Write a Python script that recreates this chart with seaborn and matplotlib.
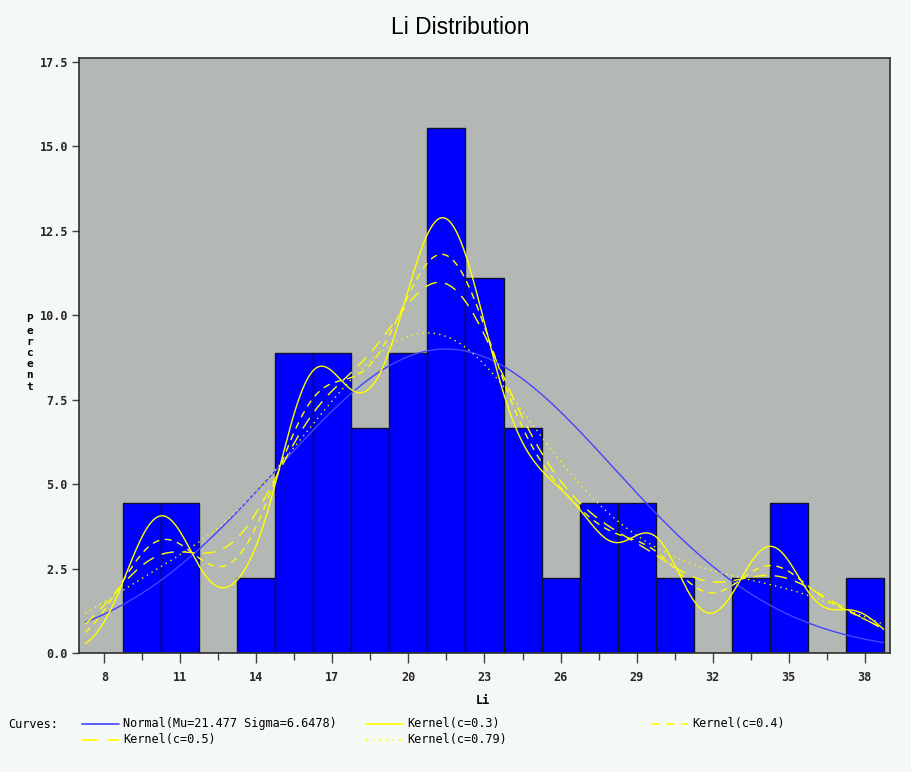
import numpy as np
import pandas as pd
import matplotlib
matplotlib.use("Agg")
import matplotlib.pyplot as plt
from matplotlib.lines import Line2D
import seaborn as sns

# ---- data (observations estimated from the histogram and the kernel curves) ----
li_values = [9.4, 9.9,
             10.6, 11.1,
             13.4,
             15.0, 15.4, 15.8, 16.1,
             16.4, 16.7, 16.9, 17.4,
             18.1, 18.5, 19.0,
             19.4, 19.9, 20.2, 20.3,
             20.8, 20.9, 21.1, 21.3, 21.5, 21.7, 22.0,
             22.3, 22.5, 22.8, 23.1, 23.5,
             24.1, 24.9, 25.2,
             26.0,
             26.9, 27.2,
             29.2, 29.5,
             30.2,
             33.4,
             34.5, 34.7,
             37.6]
bin_start = 8.75
bin_end = 38.75
bin_width = 1.5
normal_mu = 21.477
normal_sigma = 6.6478
kernel_c = [0.3, 0.4, 0.5, 0.79]
x_ticks = [8, 11, 14, 17, 20, 23, 26, 29, 32, 35, 38]
y_ticks = [0.0, 2.5, 5.0, 7.5, 10.0, 12.5, 15.0, 17.5]

FIG_BG = "#f5f9f5"
AX_BG = "#b4b8b4"

sns.set_theme(style="white")
plt.rcParams["font.family"] = ["DejaVu Sans"]

fig = plt.figure(figsize=(9.12, 7.72), dpi=100, facecolor=FIG_BG)
ax = fig.add_axes([79 / 912, 1 - 653 / 772, (890 - 79) / 912, (653 - 58) / 772])
ax.set_facecolor(AX_BG)

obs = np.array(li_values)
df = pd.DataFrame({"Li": obs})
sns.histplot(data=df, x="Li", binwidth=bin_width, binrange=(bin_start, bin_end),
             stat="percent", color="#0000ff", edgecolor="#101030", linewidth=1.0,
             alpha=1.0, ax=ax)

# fitted curves (scaled to percent per bin)
xs = np.linspace(bin_start - bin_width, bin_end, 700)
n = len(obs)
scale = 100 * bin_width
normal_y = scale * np.exp(-0.5 * ((xs - normal_mu) / normal_sigma) ** 2) / (normal_sigma * np.sqrt(2 * np.pi))
Q = np.percentile(obs, 75) - np.percentile(obs, 25)

def kde(c):
    lam = c * Q * n ** (-0.2)
    z = (xs[:, None] - obs[None, :]) / lam
    dens = np.exp(-0.5 * z ** 2).sum(axis=1) / (n * lam * np.sqrt(2 * np.pi))
    return scale * dens

styles = {0.3: "-", 0.4: (0, (5, 4)), 0.5: (0, (9, 6)), 0.79: (0, (1, 3))}
sns.lineplot(x=xs, y=normal_y, color="#4444ff", lw=1.0, ax=ax)
for c in kernel_c:
    sns.lineplot(x=xs, y=kde(c), color="#ffff00", lw=1.0, linestyle=styles[c], ax=ax)

ax.set_xlim(7, 39)
ax.set_ylim(0, 17.62)
ax.set_xticks(x_ticks)
ax.set_xticklabels([str(t) for t in x_ticks])
ax.set_xticks(np.array(x_ticks[:-1]) + 1.5, minor=True)
ax.set_yticks(y_ticks)
ax.set_yticklabels([f"{t:.1f}" for t in y_ticks])
for lab in ax.get_xticklabels() + ax.get_yticklabels():
    lab.set_fontfamily("DejaVu Sans Mono")
    lab.set_fontweight("bold")
    lab.set_fontsize(8.5)
ax.tick_params(axis="x", which="major", direction="out", length=7, width=1, color="#404040", pad=6, bottom=True)
ax.tick_params(axis="x", which="minor", direction="out", length=5, width=1, color="#404040", bottom=True)
ax.tick_params(axis="y", which="major", direction="out", length=5, width=1, color="#404040", pad=3, left=True)
for s in ax.spines.values():
    s.set_color("#303030")
    s.set_linewidth(1.2)
ax.set_xlabel("")
ax.set_ylabel("")

# title and axis labels
fig.text(460 / 912, 1 - 28 / 772, "Li Distribution", ha="center", va="center",
         fontsize=16.5, family="Liberation Sans", color="black")
fig.text(483 / 912, 1 - 700 / 772, "Li", ha="center", va="center",
         fontsize=8.5, family="DejaVu Sans Mono", fontweight="bold", color="black")
fig.text(30 / 912, 1 - 353 / 772, "P\ne\nr\nc\ne\nn\nt", ha="center", va="center",
         fontsize=8, family="DejaVu Sans Mono", fontweight="bold", linespacing=1.15, color="black")

# legend
def legend_item(x0, y, label, color, ls):
    fig.add_artist(Line2D([x0 / 912, (x0 + 37) / 912], [1 - y / 772, 1 - y / 772],
                          color=color, lw=1.2, linestyle=ls, transform=fig.transFigure))
    fig.text((x0 + 41) / 912, 1 - y / 772, label, ha="left", va="center",
             fontsize=8.6, family="DejaVu Sans Mono", color="black")

fig.text(8 / 912, 1 - 725 / 772, "Curves:", ha="left", va="center",
         fontsize=8.6, family="DejaVu Sans Mono", color="black")
legend_item(82, 724, f"Normal(Mu={normal_mu} Sigma={normal_sigma})", "#4444ff", "-")
legend_item(366, 724, "Kernel(c=0.3)", "#ffff00", "-")
legend_item(651, 724, "Kernel(c=0.4)", "#ffff00", styles[0.4])
legend_item(82, 740, "Kernel(c=0.5)", "#ffff00", styles[0.5])
legend_item(366, 740, "Kernel(c=0.79)", "#ffff00", styles[0.79])

fig.savefig("out.png", dpi=100, facecolor=FIG_BG)
